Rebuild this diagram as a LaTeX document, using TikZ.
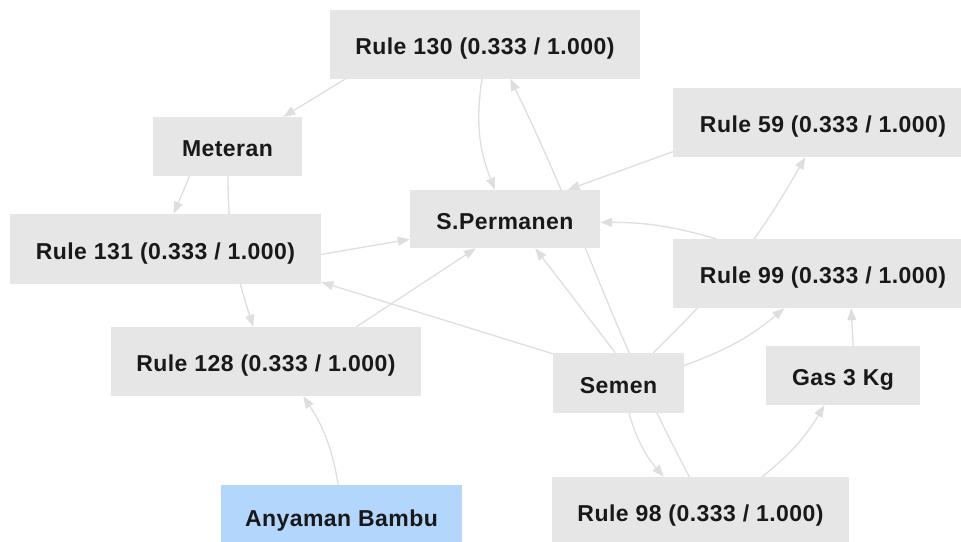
\documentclass[tikz,border=0pt]{standalone}
\usepackage{fontspec}
\usetikzlibrary{arrows.meta, backgrounds}
\newfontfamily\graphfont[LetterSpace=2]{Liberation Sans}
\definecolor{boxgray}{RGB}{230,230,230}
\definecolor{boxblue}{RGB}{178,214,252}
\definecolor{linkgray}{RGB}{222,222,222}

\begin{document}
\begin{tikzpicture}[
	x=1pt, y=-1pt,
	item/.style={
		fill=boxgray,
		inner sep=0pt,
		text=black!90,
		text height=20.5pt,
		text depth=0pt,
		font=\graphfont\bfseries\fontsize{23}{27}\selectfont
	},
	rule item/.style={
		item,
		minimum width=310pt,
		minimum height=69pt
	},
	start item/.style={
		item,
		fill=boxblue
	},
	link/.style={
		draw=linkgray,
		line width=1.3pt,
		-{Triangle[length=12pt,width=9pt]}
	}
]
	\useasboundingbox (0,0) rectangle (961,541);
	\node[rule item] (rule 130) at (485,44) {Rule 130 (0.333 / 1.000)};
	\node[item, minimum width=149pt, minimum height=59pt] (meteran) at (227.5,146.5) {Meteran};
	\node[rule item, minimum width=300pt] (rule 59) at (823,122.5) {Rule 59 (0.333 / 1.000)};
	\node[item, minimum width=190pt, minimum height=58pt] (permanen) at (505,219) {S.Permanen};
	\node[rule item, minimum width=311pt, minimum height=70pt] (rule 131) at (165.5,249) {Rule 131 (0.333 / 1.000)};
	\node[rule item, minimum width=300pt] (rule 99) at (823,273.5) {Rule 99 (0.333 / 1.000)};
	\node[rule item] (rule 128) at (266,361.5) {Rule 128 (0.333 / 1.000)};
	\node[item, minimum width=131pt, minimum height=60pt] (semen) at (618.5,383) {Semen};
	\node[item, minimum width=154pt, minimum height=59pt] (gas) at (843,375.5) {Gas 3 Kg};
	\node[start item, minimum width=241pt, minimum height=62pt] (bambu) at (341.5,516) {Anyaman Bambu};
	\node[rule item, minimum width=297pt, minimum height=68pt] (rule 98) at (700.5,511) {Rule 98 (0.333 / 1.000)};

	% links sit under the boxes
	\begin{scope}[on background layer]
		\draw[link] (rule 130.194.7) -- (meteran.28);
		\draw[link] (rule 130.265) to[bend right=15] (permanen.109);
		\draw[link] (rule 98.108.7) to[out=118,in=296] (rule 130.306.3);
		\draw[link] (rule 59.191.1) -- (permanen.25.8);
		\draw[link] (rule 99.162.6) to[bend right=8] (permanen.358.2);
		\draw[link] (semen.41) to[bend right=8] (rule 59.243.1);
		\draw[link] (semen.15.4) to[bend right=10] (rule 99.222.2);
		\draw[link] (gas.71.3) -- (rule 99.309.1);
		\draw[link] (semen.96.7) -- (permanen.316);
		\draw[link] (semen.156.5) -- (rule 131.348.7);
		\draw[link] (rule 131.358.9) -- (permanen.192.5);
		\draw[link] (rule 128.21.2) -- (permanen.225);
		\draw[link] (meteran.218.2) -- (rule 131.77.9);
		\draw[link] (meteran.271) to[out=-90,in=108] (rule 128.110.6);
		\draw[link] (bambu.96.4) to[bend right=12] (rule 128.317);
		\draw[link] (semen.289.3) to[bend right=12] (rule 98.137);
		\draw[link] (rule 98.29.7) to[bend right=10] (gas.238.6);
	\end{scope}
\end{tikzpicture}
\end{document}
